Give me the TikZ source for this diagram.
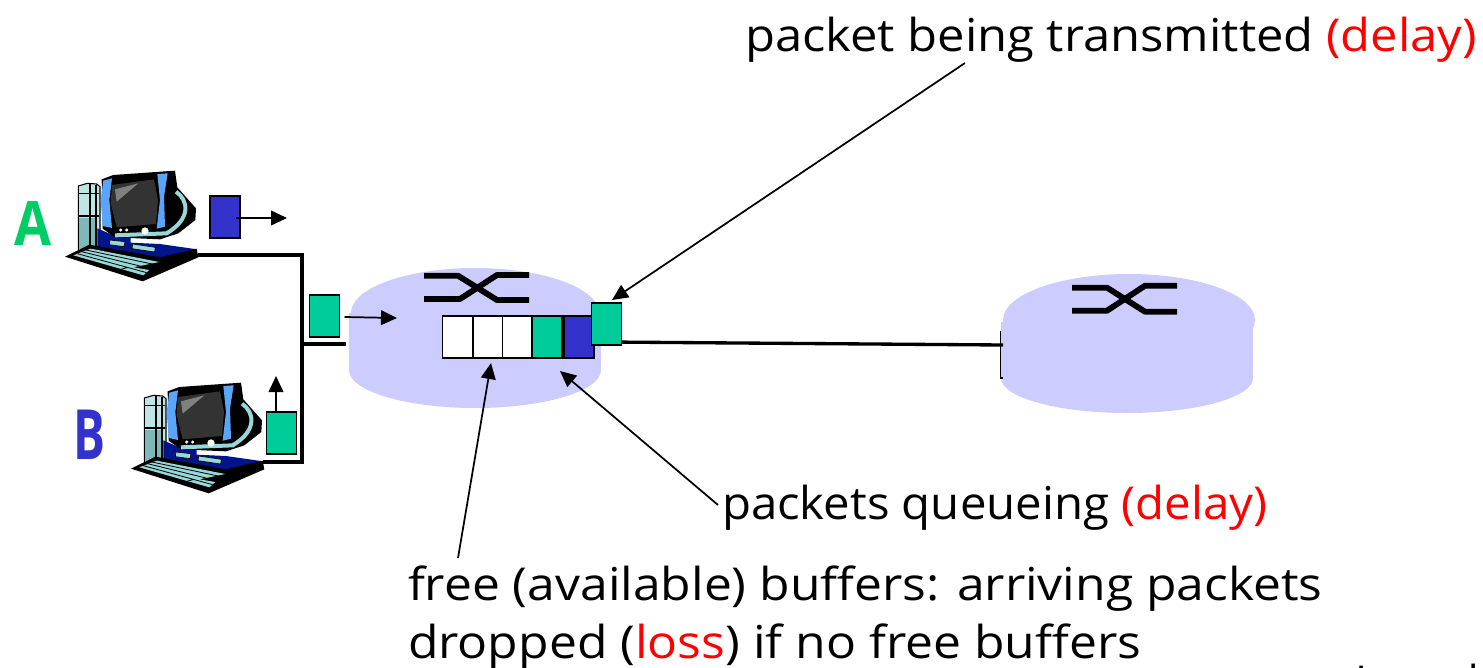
\documentclass[tikz,border=0pt]{standalone}
\usepackage{fontspec}
\setmainfont{Open Sans}
\usetikzlibrary{arrows.meta}
\definecolor{rtr}{RGB}{204,204,255}
\definecolor{pgreen}{RGB}{0,204,153}
\definecolor{pblue}{RGB}{51,51,204}
\definecolor{lblgreen}{RGB}{0,204,102}
\definecolor{scr}{RGB}{51,51,51}
\definecolor{scrhi}{RGB}{128,128,128}
\definecolor{tealc}{RGB}{153,216,216}
\definecolor{towerc}{RGB}{190,228,228}
\definecolor{towerd}{RGB}{125,185,185}
\definecolor{bandc}{RGB}{90,165,250}
\definecolor{navyc}{RGB}{0,20,140}
\newcommand{\fitw}[2]{\resizebox{#1}{\height}{#2}}
\newcommand{\redt}[1]{{\color{red}#1}}
\tikzset{
 x=0.75pt,y=-0.75pt,
 cell/.style={draw=black,line width=1.4pt,minimum width=22.5pt,minimum height=31.5pt,inner sep=0pt,outer sep=0pt,fill=white},
 pkt/.style={draw=black,line width=1.4pt,minimum width=22.5pt,minimum height=31.5pt,inner sep=0pt,outer sep=0pt},
 wire/.style={line width=2.5pt,line join=miter},
 pointer/.style={line width=1.3pt,-{Triangle[length=12pt,width=11pt]}},
 lbl/.style={inner sep=0pt,outer sep=0pt,anchor=base west,font=\fontsize{34}{36}\selectfont},
 swx/.style={line width=4.4pt,line join=round},
}
\newcommand{\computer}[2]{%
\begin{scope}[shift={(#1,#2)},x=.25pt,y=-.25pt]
 % tower
 \fill[towerc,draw=black,line width=.8pt] (235,108) -- (262,100) -- (290,102) -- (300,110) -- (300,302) -- (235,302) -- cycle;
 \fill[towerd] (238,205) -- (288,205) -- (288,298) -- (238,298) -- cycle;
 \draw[black,line width=.8pt] (270,102) -- (270,298) (288,104) -- (288,298) (236,130) -- (298,130) (236,198) -- (298,198);
 % base
 \fill[navyc] (292,235) -- (345,258) -- (392,262) -- (392,278) -- (480,282) -- (592,298) -- (480,325) -- (292,298) -- cycle;
 \fill[tealc,draw=black,line width=.5pt] (330,270) -- (375,275) -- (372,290) -- (328,284) -- cycle;
 \fill[tealc,draw=black,line width=.5pt] (398,282) -- (466,292) -- (464,306) -- (396,296) -- cycle;
 % keyboard
 \fill[black] (195,320) -- (268,284) -- (480,322) -- (590,296) -- (595,322) -- (428,394) -- cycle;
 \fill[tealc] (220,316) -- (272,296) -- (478,336) -- (400,352) -- (448,360) -- (430,376) -- cycle;
 \draw[black,line width=.6pt] (232,311) -- (440,368) (245,305) -- (452,356) (258,300) -- (466,344) (385,352) -- (362,358);
 % monitor
 \fill[black] (305,88) -- (340,75) -- (525,62) -- (532,112) -- (588,175) -- (586,210) -- (535,250) -- (480,268) -- (345,262) -- (308,236) -- cycle;
 \draw[tealc,line width=3pt] (528,125) .. controls (565,150) and (575,205) .. (500,250) -- (345,256);
 \fill[bandc] (310,92) -- (336,85) -- (328,150) -- (336,234) -- (308,228) -- (302,150) -- cycle;
 \fill[bandc] (472,72) -- (503,70) -- (492,140) -- (495,230) -- (470,236) -- (480,150) -- cycle;
 \fill[scr] (336,105) -- (462,88) -- (474,150) -- (468,222) -- (350,232) -- (332,160) -- cycle;
 \fill[scrhi] (345,118) -- (415,100) -- (350,155) -- cycle;
 \fill[white] (362,240) circle[radius=5] (380,240) circle[radius=5] (435,243) circle[radius=11];
\end{scope}}
\begin{document}
\begin{tikzpicture}
\useasboundingbox (0,0) rectangle (1483,667);
% routers
\fill[rtr] (475,313) ellipse[x radius=124,y radius=45];
\fill[rtr] (475,370) ellipse[x radius=126,y radius=38];
\fill[rtr] (349,313) rectangle (601,370);
\fill[rtr] (1129,320) ellipse[x radius=126,y radius=46];
\fill[rtr] (1127,378) ellipse[x radius=126,y radius=35];
\fill[rtr] (1001,322) rectangle (1253,378);
\draw[black,line width=.8pt] (1000.5,331) -- (1000.5,378) -- (1002.5,378);
\draw[swx] (424,275.7) -- (458,275.7) -- (497,300) -- (529,300);
\draw[swx] (424,299) -- (460,299) -- (497,275) -- (529,275);
\draw[swx] (1072,287.7) -- (1107,287.7) -- (1145,311.7) -- (1177,311.7);
\draw[swx] (1072,310.7) -- (1107,310.7) -- (1145,285.7) -- (1177,285.7);
% computers
\computer{0}{150}
\computer{66}{362}
% named anchors
\coordinate (hostA) at (198,255);
\coordinate (hostB) at (263,462);
\coordinate (busTop) at (302,255);
\coordinate (busBot) at (302,462);
\coordinate (busMid) at (302,344);
\coordinate (rIn) at (346,344);
\coordinate (rtrTwo) at (1003,345);
\coordinate (inTip) at (397,318);
\coordinate (aTip) at (287,218);
\coordinate (bTip) at (276,376);
\coordinate (qTip) at (560,371);
\coordinate (fTip) at (491,363);
\coordinate (tTip) at (612,300);
\coordinate (tTail) at (965,63);
\coordinate (qTail) at (718,505);
\coordinate (fTail) at (458,558);
% wires
\draw[wire] (hostA) -- (busTop) -- (busBot) -- (hostB);
\draw[wire] (busMid) -- (rIn);
% queue
\node[cell] (c1) at (457.5,337) {};
\node[cell] (c2) at (488,337) {};
\node[cell] (c3) at (517.5,337) {};
\node[cell,fill=pgreen] (c4) at (547,337) {};
\node[cell,fill=pblue] (c5) at (579,337) {};
\draw[wire] (606,342) -- (rtrTwo);
\node[pkt,fill=pgreen] (tx) at (606.5,324) {};
% packets
\node[pkt,fill=pblue] (pa) at (225,217) {};
\node[pkt,fill=pgreen] (pc) at (324.5,316) {};
\node[pkt,fill=pgreen] (pb) at (281.5,433) {};
% arrows
\draw[pointer] (pa.east) ++(-4,1) -- (aTip);
\draw[pointer] (pc.east) ++(5,1) -- (inTip);
\draw[pointer] (276,412) -- (bTip);
\draw[pointer] (tTail) -- (tTip);
\draw[pointer] (qTail) -- (qTip);
\draw[pointer] (fTail) -- (fTip);
% labels
\node[lbl,font=\fontsize{46}{46}\selectfont\bfseries,text=lblgreen] (la) at (15,245) {\fitw{27.75pt}{A}};
\node[lbl,font=\fontsize{52}{52}\selectfont,text=pblue] (lb) at (73,459) {\fitw{24pt}{\bfseries B}};
\node[lbl] (t1) at (745,52) {\fitw{549pt}{packet being transmitted \redt{(delay)}}};
\node[lbl] (t2) at (722,519) {\fitw{409pt}{packets queueing \redt{(delay)}}};
\node[lbl] (t3) at (408,600) {\fitw{686pt}{free (available) buffers: arriving packets}};
\node[lbl] (t4) at (408,658) {\fitw{550pt}{dropped (\redt{loss}) if no free buffers}};
\node[lbl] (t5) at (1355,698) {\scalebox{.96}[1]{Introduction}};
\end{tikzpicture}
\end{document}
